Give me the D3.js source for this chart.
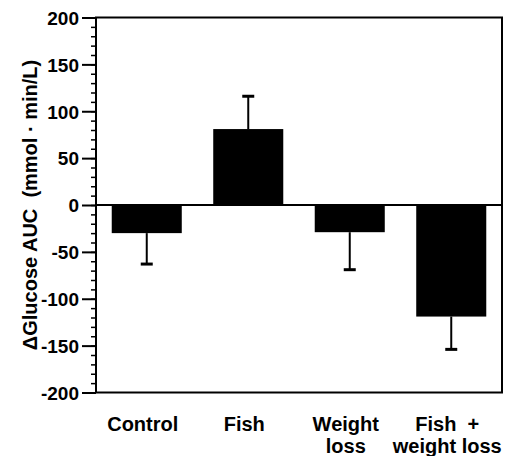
<!DOCTYPE html>
<html lang="en">
<head>
  <meta charset="UTF-8">
  <title>Glucose AUC change by group</title>
  <script src="https://d3js.org/d3.v7.min.js"></script>
  <style>
    body { margin: 0; background: #fff; }
    svg text { font-family: "Liberation Sans", Arial, sans-serif; font-weight: bold; fill: #000; }
  </style>
</head>
<body>
<div id="chart"></div>
<script>
  // Data
  const categories = ['Control', 'Fish', 'Weight loss', 'Fish + weight loss'];
  const labelLines = [['Control'], ['Fish'], ['Weight', 'loss'], ['Fish  +', 'weight loss']];
  const means = [-30, 81, -29, -119];
  const errors = [33, 35, 40, 35];
  const majorTicks = [-200, -150, -100, -50, 0, 50, 100, 150, 200];
  const minorTicks = d3.range(-200, 201, 10);

  const W = 506, H = 456;
  const margin = { top: 17.5, right: 4, bottom: 63.5, left: 96 };
  const width = W - margin.left - margin.right;
  const height = H - margin.top - margin.bottom;

  const svg = d3.select('#chart').append('svg')
    .attr('width', W)
    .attr('height', H);

  const g = svg.append('g')
    .attr('transform', `translate(${margin.left},${margin.top})`);

  const x = d3.scaleBand()
    .domain(categories)
    .range([0, width])
    .paddingInner(0.31)
    .paddingOuter(0.155);

  const y = d3.scaleLinear().domain([-200, 200]).range([height, 0]);

  // minor ticks
  g.append('g')
    .call(d3.axisLeft(y).tickValues(minorTicks).tickSize(5).tickFormat(''))
    .call(a => a.select('.domain').remove())
    .selectAll('line').attr('stroke-width', 1.5);

  // major ticks with labels (plain hyphen for negatives, like the original)
  const yAxis = g.append('g')
    .call(d3.axisLeft(y).tickValues(majorTicks).tickSize(14).tickPadding(3)
      .tickFormat(d => String(d)))
    .call(a => a.select('.domain').remove());
  yAxis.selectAll('line').attr('stroke-width', 2);
  yAxis.selectAll('text')
    .style('font-size', '19px')
    .attr('dy', '0.36em');

  // bars
  g.selectAll('rect.bar')
    .data(categories)
    .join('rect')
    .attr('class', 'bar')
    .attr('x', d => x(d))
    .attr('width', x.bandwidth())
    .attr('y', (d, i) => y(Math.max(0, means[i])))
    .attr('height', (d, i) => Math.abs(y(means[i]) - y(0)))
    .attr('fill', '#000');

  // error bars (one-sided, away from zero)
  const errG = g.selectAll('g.err')
    .data(categories)
    .join('g')
    .attr('class', 'err');
  errG.append('line')
    .attr('x1', d => x(d) + x.bandwidth() / 2)
    .attr('x2', d => x(d) + x.bandwidth() / 2)
    .attr('y1', (d, i) => y(means[i]))
    .attr('y2', (d, i) => y(means[i] + Math.sign(means[i]) * errors[i]))
    .attr('stroke', '#000')
    .attr('stroke-width', 2);
  errG.append('line')
    .attr('x1', d => x(d) + x.bandwidth() / 2 - 6)
    .attr('x2', d => x(d) + x.bandwidth() / 2 + 6)
    .attr('y1', (d, i) => y(means[i] + Math.sign(means[i]) * errors[i]))
    .attr('y2', (d, i) => y(means[i] + Math.sign(means[i]) * errors[i]))
    .attr('stroke', '#000')
    .attr('stroke-width', 3);

  // zero line
  g.append('line')
    .attr('x1', 0).attr('x2', width)
    .attr('y1', y(0)).attr('y2', y(0))
    .attr('stroke', '#000')
    .attr('stroke-width', 2);

  // frame
  g.append('rect')
    .attr('width', width)
    .attr('height', height)
    .attr('fill', 'none')
    .attr('stroke', '#000')
    .attr('stroke-width', 2);

  // category labels
  const lab = g.selectAll('text.cat')
    .data(categories)
    .join('text')
    .attr('class', 'cat')
    .attr('text-anchor', 'middle')
    .style('font-size', '20px')
    .attr('transform', d => `translate(${x(d) + x.bandwidth() / 2 - 4},${431 - margin.top})`);
  lab.selectAll('tspan')
    .data((d, i) => labelLines[i])
    .join('tspan')
    .attr('x', 0)
    .attr('y', (d, i) => i * 21.5)
    .style('white-space', 'pre')
    .text(d => d);

  // y axis title
  svg.append('text')
    .attr('transform', `translate(37,${margin.top + y(0)}) rotate(-90)`)
    .attr('text-anchor', 'middle')
    .style('font-size', '20px')
    .style('white-space', 'pre')
    .text('\u0394Glucose AUC  (mmol \u00b7 min/L)');
</script>
</body>
</html>
